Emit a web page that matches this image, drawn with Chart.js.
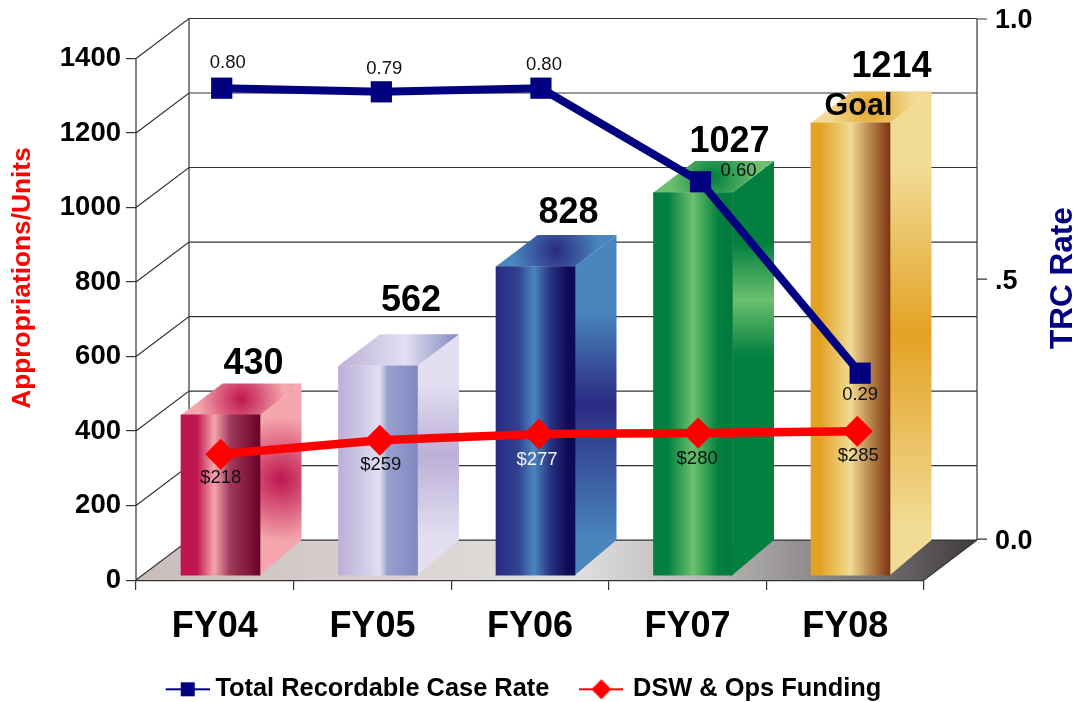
<!DOCTYPE html>
<html>
<head>
<meta charset="utf-8">
<title>Appropriations and TRC Rate</title>
<script src="https://cdn.jsdelivr.net/npm/chart.js@4"></script>
<style>
    html, body { margin: 0; padding: 0; background: #fff; overflow: hidden; }
    canvas { display: block; }
</style>
</head>
<body>
<canvas id="chart" width="1076" height="702"></canvas>
<script>
// Data
const categories = ['FY04', 'FY05', 'FY06', 'FY07', 'FY08'];
const appropriations = [430, 562, 828, 1027, 1214];
const trcHeights = [0.867, 0.860, 0.867, 0.687, 0.319]; // where the points sit on the right axis
const trcLabels = ['0.80', '0.79', '0.80', '0.60', '0.29'];
const funding = [218, 259, 277, 280, 285];
const fundingLabels = ['$218', '$259', '$277', '$280', '$285'];
const leftTicks = [0, 200, 400, 600, 800, 1000, 1200, 1400];
const rightTicks = [0, 0.5, 1];
const rightTickLabels = ['0.0', '.5', '1.0'];

// Look of the 3D bars
const CRIMSON = '#BF1650', PINK = '#F5A6AC';
const LILAC = '#BBB0D8', PALE = '#E3DFF1';
const INDIGO = '#2A2A82', SKY = '#4A86BE';
const GREEN = '#03803F', MINT = '#6CBF6E';
const GOLD = '#E3A224', CREAM = '#F1DB95';
const barStyles = [
    {
        front: [[0, CRIMSON], [0.2, CRIMSON], [0.42, PINK], [0.62, '#A23A5C'], [1, '#6B0028']],
        side: [[0, PINK], [1, PINK]], blotch: CRIMSON, blotchR: 62, topEdge: PINK, topCentre: CRIMSON
    },
    {
        front: [[0, LILAC], [0.3, '#CFC8E6'], [0.52, PALE], [0.62, '#98A0D0'], [1, '#8088C0']],
        side: [[0, PALE], [0.2, PALE], [0.5, LILAC], [0.85, PALE], [1, PALE]],
        topLinear: [[0, LILAC], [0.55, PALE], [1, '#8088C0']]
    },
    {
        front: [[0, INDIGO], [0.28, '#30418F'], [0.48, SKY], [0.7, '#262F80'], [0.92, '#0E0A55'], [1, '#0E0A55']],
        side: [[0, SKY], [0.22, SKY], [0.5, INDIGO], [0.58, '#31408F'], [0.9, SKY], [1, SKY]], topEdge: SKY, topCentre: INDIGO
    },
    {
        front: [[0, GREEN], [0.18, GREEN], [0.5, MINT], [0.82, GREEN], [1, '#017A3C']],
        side: [[0, GREEN], [0.2, GREEN], [0.335, MINT], [0.47, GREEN], [1, GREEN]], topEdge: MINT, topCentre: GREEN
    },
    {
        front: [[0, GOLD], [0.12, GOLD], [0.5, CREAM], [0.72, '#BE8F55'], [1, '#7E3410']],
        side: [[0, CREAM], [0.16, CREAM], [0.5, GOLD], [0.9, CREAM], [1, CREAM]], topEdge: CREAM, topCentre: GOLD
    }
];

const DEPTH_X = 53, DEPTH_Y = 40;       // wall offset from the front axes
const BAR_W = 79;
const BAR_DX = 41.5, BAR_DY = 31.5;     // bar depth
const LINE_COLOR = '#333';
const FONT = '"Liberation Sans", Arial, sans-serif';

// Label offsets from their points
const barLabelShift = [33, 33, 33, 36.5, 41];
const barLabelLift = [19, 33, 22, 18.5, 24.5];
const trcLabelOffset = [[6, -25], [3, -23], [3, -23], [38, -11], [0, 22]];
const fundLabelOffset = [[0, 24], [1, 25], [-2, 26], [-1, 26], [1, 25]];

function gradientFrom(grad, stops) {
    stops.forEach(s => grad.addColorStop(s[0], s[1]));
    return grad;
}

function polygon(ctx, pts, fill) {
    ctx.beginPath();
    pts.forEach((p, i) => i ? ctx.lineTo(p[0], p[1]) : ctx.moveTo(p[0], p[1]));
    ctx.closePath();
    ctx.fillStyle = fill;
    ctx.fill();
}

function transparent(hex) {
    return hex + '00';
}

// Floor, walls, gridlines and the two hand placed axis lines
const wallsPlugin = {
    id: 'walls',
    beforeDatasetsDraw(chart) {
        const ctx = chart.ctx;
        const y = chart.scales.y, right = chart.scales.yRight;
        const area = chart.chartArea;
        const x0 = area.left, x1 = area.right;
        const y0 = y.getPixelForValue(0);
        const top = y.getPixelForValue(1400);
        const backL = x0 + DEPTH_X, backR = x1 + DEPTH_X;
        ctx.save();

        const floor = ctx.createLinearGradient(x0, 0, backR, 0);
        gradientFrom(floor, [[0, '#C8BDBB'], [0.3, '#D9D2D0'], [0.52, '#E2E0DF'], [0.7, '#B3B0B0'], [0.88, '#747072'], [1, '#3F3A3D']]);
        polygon(ctx, [[x0, y0], [x1, y0], [backR, y0 - DEPTH_Y], [backL, y0 - DEPTH_Y]], floor);

        ctx.strokeStyle = LINE_COLOR;
        ctx.lineWidth = 1.2;
        ctx.beginPath();
        leftTicks.forEach(v => {
            const py = y.getPixelForValue(v);
            ctx.moveTo(x0, py);
            ctx.lineTo(backL, py - DEPTH_Y);
            ctx.lineTo(backR, py - DEPTH_Y);
        });
        ctx.moveTo(x0, y0);
        ctx.lineTo(x0, top);
        ctx.moveTo(backL, y0 - DEPTH_Y);
        ctx.lineTo(backL, top - DEPTH_Y);
        ctx.moveTo(backR, y0 - DEPTH_Y);
        ctx.lineTo(backR, top - DEPTH_Y);
        ctx.moveTo(x1, y0);
        ctx.lineTo(backR, y0 - DEPTH_Y);
        rightTicks.forEach(v => {
            const py = right.getPixelForValue(v);
            ctx.moveTo(backR, py);
            ctx.lineTo(backR + 10, py);
        });
        ctx.stroke();

        // depth faces of the bars, the fronts come from the bar dataset
        const base = chart.scales.yBar.getPixelForValue(0);
        chart.getDatasetMeta(0).data.forEach((bar, i) => {
            const st = barStyles[i];
            const l = bar.x - bar.width / 2, r = bar.x + bar.width / 2;
            const t = bar.y;
            const side = ctx.createLinearGradient(0, t - BAR_DY, 0, base);
            gradientFrom(side, st.side);
            const sidePts = [[r, t], [r + BAR_DX, t - BAR_DY], [r + BAR_DX, base - 35], [r, base]];
            polygon(ctx, sidePts, side);
            if (st.blotch) {
                const cy = (t - BAR_DY + base) / 2;
                const blot = ctx.createRadialGradient(r + BAR_DX / 2, cy, 0, r + BAR_DX / 2, cy, st.blotchR);
                gradientFrom(blot, [[0, st.blotch], [1, transparent(st.blotch)]]);
                polygon(ctx, sidePts, blot);
            }
            const cx = (l + r + BAR_DX) / 2, cy = t - BAR_DY / 2;
            let topFace;
            if (st.topLinear) {
                topFace = gradientFrom(ctx.createLinearGradient(l, 0, r + BAR_DX, 0), st.topLinear);
            } else {
                topFace = ctx.createRadialGradient(cx, cy, 0, cx, cy, bar.width * 0.55);
                gradientFrom(topFace, [[0, st.topCentre], [1, st.topEdge]]);
            }
            polygon(ctx, [[l, t], [l + BAR_DX, t - BAR_DY], [r + BAR_DX, t - BAR_DY], [r, t]], topFace);
        });
        ctx.restore();
    }
};

// Value labels and the two rotated axis titles
const labelsPlugin = {
    id: 'valueLabels',
    afterDatasetsDraw(chart) {
        const ctx = chart.ctx;
        ctx.save();
        ctx.textAlign = 'center';
        ctx.textBaseline = 'middle';

        ctx.font = 'bold 36px ' + FONT;
        ctx.fillStyle = '#000';
        chart.getDatasetMeta(0).data.forEach((bar, i) => {
            ctx.fillText(String(appropriations[i]), bar.x + barLabelShift[i], bar.y - BAR_DY - barLabelLift[i]);
        });

        const last = chart.getDatasetMeta(0).data[4];
        ctx.font = 'bold 30.5px ' + FONT;
        ctx.fillText('Goal', last.x + 8, last.y - 16);

        ctx.font = '18.5px ' + FONT;
        ctx.fillStyle = '#111';
        chart.getDatasetMeta(1).data.forEach((pt, i) => {
            ctx.fillText(trcLabels[i], pt.x + trcLabelOffset[i][0], pt.y + trcLabelOffset[i][1]);
        });
        chart.getDatasetMeta(2).data.forEach((pt, i) => {
            ctx.fillStyle = i === 2 ? '#F2F2F2' : '#111';
            ctx.fillText(fundingLabels[i], pt.x + fundLabelOffset[i][0], pt.y + fundLabelOffset[i][1]);
        });

        ctx.translate(23, 278);
        ctx.rotate(-Math.PI / 2);
        ctx.font = 'bold 26.3px ' + FONT;
        ctx.fillStyle = '#FF0000';
        ctx.fillText('Appropriations/Units', 0, 0);
        ctx.rotate(Math.PI / 2);
        ctx.translate(1063 - 23, 0);
        ctx.rotate(-Math.PI / 2);
        ctx.font = 'bold 31.5px ' + FONT;
        ctx.fillStyle = '#000080';
        ctx.fillText('TRC Rate', 0, 0);
        ctx.restore();
    }
};

// Legend keys, a thin line with the marker. shift moves the key inside its canvas.
function legendKey(color, shift, drawMarker) {
    const c = document.createElement('canvas');
    c.width = 44 + 2 * shift;
    c.height = 24;
    const g = c.getContext('2d');
    g.translate(2 * shift, 0);
    g.fillStyle = color;
    g.fillRect(0, 11, 44, 2);
    drawMarker(g);
    return c;
}

const trcKey = legendKey('#000080', 4, g => g.fillRect(15, 5, 14, 14));
const fundKey = legendKey('#FF0000', 0, g => {
    g.beginPath();
    g.moveTo(22, 2);
    g.lineTo(32, 12);
    g.lineTo(22, 22);
    g.lineTo(12, 12);
    g.closePath();
    g.fill();
});

const hiddenLinear = (min, max) => ({ type: 'linear', display: false, offset: false, min: min, max: max });

new Chart(document.getElementById('chart'), {
    type: 'bar',
    data: {
        labels: categories,
        datasets: [
            {
                label: 'Appropriations/Units',
                data: appropriations.map((v, i) => ({ x: i, y: v })),
                xAxisID: 'xBar',
                yAxisID: 'yBar',
                barThickness: BAR_W,
                grouped: false,
                order: 3,
                backgroundColor: (c) => {
                    const px = c.chart.scales.xBar.getPixelForValue(c.dataIndex);
                    const g = c.chart.ctx.createLinearGradient(px - BAR_W / 2, 0, px + BAR_W / 2, 0);
                    return gradientFrom(g, barStyles[c.dataIndex].front);
                }
            },
            {
                type: 'line',
                label: 'Total Recordable Case Rate',
                data: trcHeights.map((v, i) => ({ x: i, y: v })),
                xAxisID: 'xTrc',
                yAxisID: 'yRight',
                order: 1,
                borderColor: '#000080',
                backgroundColor: '#000080',
                borderWidth: 8,
                tension: 0,
                pointStyle: 'rect',
                pointRadius: 15,
                pointBorderWidth: 0
            },
            {
                type: 'line',
                label: 'DSW & Ops Funding',
                data: funding.map((v, i) => ({ x: i, y: v })),
                xAxisID: 'xFund',
                yAxisID: 'yFund',
                order: 2,
                borderColor: '#FF0000',
                backgroundColor: '#FF0000',
                borderWidth: 8.5,
                tension: 0,
                pointStyle: 'rectRot',
                pointRadius: 15.5,
                pointBorderWidth: 0
            }
        ]
    },
    plugins: [wallsPlugin, labelsPlugin],
    options: {
        responsive: false,
        animation: false,
        layout: { padding: { top: 19, right: 30, bottom: -10, left: 0 } },
        plugins: {
            tooltip: { enabled: false },
            legend: {
                position: 'bottom',
                labels: {
                    color: '#000',
                    font: { family: FONT, size: 25.4, weight: 'bold' },
                    usePointStyle: true,
                    pointStyleWidth: 38,
                    padding: 33,
                    generateLabels: () => [
                        { text: 'Total Recordable Case Rate', pointStyle: trcKey, fontColor: '#000', datasetIndex: 1, lineWidth: 0, strokeStyle: 'transparent' },
                        { text: 'DSW & Ops Funding', pointStyle: fundKey, fontColor: '#000', datasetIndex: 2, lineWidth: 0, strokeStyle: 'transparent' }
                    ]
                }
            }
        },
        scales: {
            x: {
                type: 'category',
                offset: true,
                grid: { offset: true, drawOnChartArea: false, tickLength: 10, color: LINE_COLOR, lineWidth: 1.2 },
                border: { color: LINE_COLOR, width: 1.2 },
                ticks: { color: '#000', font: { family: FONT, size: 36, weight: 'bold' }, padding: 15.5, maxRotation: 0, autoSkip: false },
                afterFit: (s) => { s.height = 63.5; }
            },
            xBar: hiddenLinear(-0.5365, 4.4667),
            xTrc: hiddenLinear(-0.537, 4.400),
            xFund: hiddenLinear(-0.532, 4.419),
            y: {
                position: 'left',
                min: 0,
                max: 1506,
                afterBuildTicks: (s) => { s.ticks = leftTicks.map(v => ({ value: v })); },
                grid: { drawOnChartArea: false, tickLength: 10, color: LINE_COLOR, lineWidth: 1.2 },
                border: { display: false },
                ticks: { color: '#000', font: { family: FONT, size: 27.5, weight: 'bold' }, padding: 5, callback: (v) => String(v) },
                afterFit: (s) => { s.width = 136; s.paddingTop = 0; s.paddingBottom = 0; }
            },
            yBar: hiddenLinear(-13.4, 1492.6),
            yFund: hiddenLinear(-148.7, 1487),
            yRight: {
                position: 'right',
                min: -0.0788,
                max: 1,
                afterBuildTicks: (s) => { s.ticks = rightTicks.map(v => ({ value: v })); },
                grid: { display: false },
                border: { display: false },
                ticks: {
                    color: '#000',
                    font: { family: FONT, size: 27, weight: 'bold' },
                    padding: 63,
                    labelOffset: 2,
                    callback: (v) => rightTickLabels[rightTicks.indexOf(v)]
                },
                afterFit: (s) => { s.width = 122; s.paddingTop = 0; s.paddingBottom = 0; }
            }
        }
    }
});
</script>
</body>
</html>
